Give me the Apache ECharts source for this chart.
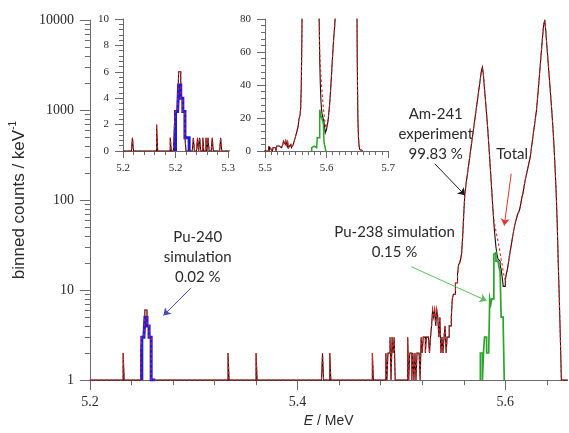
<!DOCTYPE html>
<html>
<head>
<meta charset="utf-8">
<script src="https://cdn.jsdelivr.net/npm/echarts@6/dist/echarts.min.js"></script>
<style>
  html, body { margin: 0; padding: 0; background: #fff; }
  #chart { width: 569px; height: 433px; }
</style>
</head>
<body>
<div id="chart"></div>
<script>
// ---------------- spectrum data (1 keV bins, counts per bin) ----------------
const binMeV = 0.001;
const spectrumStartMeV = 5.200;
const spectrumEndMeV = 5.660;

// Experiment below 5.48 MeV: isolated non-empty bins as [bin start / MeV, counts]
const experimentTailBins = [
  [5.209, 1], [5.232, 2], [5.245, 1], [5.249, 2], [5.250, 3], [5.251, 3], [5.252, 3],
  [5.253, 6], [5.254, 6], [5.255, 4], [5.256, 4], [5.257, 3], [5.258, 3], [5.259, 1],
  [5.267, 1], [5.271, 1], [5.273, 1], [5.276, 1], [5.279, 1], [5.281, 1], [5.285, 1],
  [5.293, 1], [5.333, 2], [5.360, 2], [5.424, 2], [5.431, 2], [5.472, 2]
];

// Experiment from 5.480 MeV upward, consecutive 1 keV bins
const experimentPeakStartMeV = 5.480;
const experimentPeakCounts = [
  0, 0, 0, 0, 0, 2, 1, 2, 2, 3,                 // 5.480
  1, 3, 2, 3, 0, 0, 0, 0, 0, 0,                 // 5.490
  0, 0, 0, 0, 0, 0, 3, 0, 2, 2,                 // 5.500
  1, 2, 0, 2, 1, 2, 2, 2, 0, 3,                 // 5.510
  2, 3, 3, 2, 3, 3, 3, 2, 3, 4,                 // 5.520
  6, 5, 6, 4, 6, 5, 3, 5, 2, 3,                 // 5.530
  2, 3, 4, 2, 3, 3, 4, 4, 5, 8,                 // 5.540
  9, 9, 12, 12, 15, 19, 20, 22, 26, 40,         // 5.550
  70, 115, 144, 176, 213, 260, 316, 384, 467, 568,          // 5.560
  691, 840, 1020, 1240, 1510, 1840, 2240, 2720, 3000, 2400, // 5.570
  1700, 1250, 900, 640, 430, 290, 190, 125, 82, 55,         // 5.580
  40, 30, 25, 22, 21, 19, 17, 14, 11, 11,       // 5.590
  13, 15, 17, 20, 24, 28, 33, 39, 45, 52,       // 5.600
  58, 64, 70, 74, 80, 92, 108, 118, 140, 163,   // 5.610
  185, 208, 235, 266, 301, 366, 447, 545, 664, 809,         // 5.620
  986, 1315, 1820, 2530, 3510, 4870, 6750, 9000, 9900, 7600, // 5.630
  5200, 3700, 2600, 1850, 1300, 900, 600, 380, 220, 120,    // 5.640
  55, 20, 8, 3, 1, 0, 0, 0, 0, 0                // 5.650
];

// Pu-240 simulation
const pu240StartMeV = 5.250;
const pu240Counts = [3, 3, 3, 5, 5, 4, 4, 3, 3, 1, 1, 1, 1];

// Pu-238 simulation
const pu238StartMeV = 5.576;
const pu238Counts = [2, 2, 1, 2, 3, 3, 2, 2, 2, 8, 7, 8, 8, 25, 26, 21, 21, 20, 18, 16, 5, 5, 4];

// Total of the model: follows the experiment except in the valley between the peaks
const totalValleyStartMeV = 5.589;
const totalValleyCounts = [60, 52, 45, 40, 35, 30, 26, 22, 19, 16, 14];

// ---------------- axis ticks ----------------
const mainTickLabelsMeV = [5.2, 5.4, 5.6];
const mainTickMarksMeV = [5.20, 5.24, 5.28, 5.32, 5.36, 5.40, 5.44, 5.48, 5.52, 5.56, 5.60, 5.64];
const countDecades = [1, 10, 100, 1000, 10000];
const insetLowTickLabels = ['5.2', '5.2', '5.3'];
const insetHighTickLabels = ['5.5', '5.6', '5.7'];

// ---------------- annotations (anchored in data coordinates) ----------------
const notes = [
  { text: 'Pu-240\nsimulation\n0.02 %', at: [5.3038, 23.1] },
  { text: 'Pu-238 simulation\n0.15 %', at: [5.4934, 34.1] },
  { text: 'Am-241\nexperiment\n99.83 %', at: [5.5330, 542] },
  { text: 'Total', at: [5.6066, 324] }
];
const arrows = {
  pu240: [[5.2972, 10.5], [5.2708, 5.22]],
  pu238: [[5.5094, 18.2], [5.5821, 7.6]],
  am241: [[5.5321, 253], [5.5613, 113]],
  total: [[5.6057, 196], [5.5990, 52]]
};

// ---------------- helpers ----------------
const nBins = Math.round((spectrumEndMeV - spectrumStartMeV) / binMeV);
const binIndex = e => Math.round((e - spectrumStartMeV) / binMeV);

const experiment = new Array(nBins).fill(0);
experimentTailBins.forEach(([e, c]) => { experiment[binIndex(e)] = c; });
experimentPeakCounts.forEach((c, i) => { experiment[binIndex(experimentPeakStartMeV) + i] = c; });

const total = experiment.slice();
totalValleyCounts.forEach((c, i) => { total[binIndex(totalValleyStartMeV) + i] = c; });

// histogram outline for a step line ('end' = horizontal run first)
function stepPoints(startMeV, counts, floor) {
  const pts = [[startMeV, floor]];
  counts.forEach((c, i) => pts.push([+(startMeV + i * binMeV).toFixed(4), Math.max(c, floor)]));
  const endMeV = +(startMeV + counts.length * binMeV).toFixed(4);
  pts.push([endMeV, Math.max(counts[counts.length - 1], floor)]);
  pts.push([endMeV, floor]);
  return pts;
}

const INK = '#2a2a2a';
const AXIS = '#6a6a6a';
const EXP_COLOR = '#1e0b0b';
const TOTAL_COLOR = '#e3231f';
const PU240_COLOR = '#1a1ae0';
const PU238_COLOR = '#2aa52a';
const SERIF = 'Liberation Serif';
const SANS = 'Liberation Sans';
const NOTE_FONT = 'Lato';

function histLine(name, data, xi, yi, color, width, dashed, z) {
  return {
    name, type: 'line', step: 'end', data,
    xAxisIndex: xi, yAxisIndex: yi,
    showSymbol: false, symbol: 'none', silent: true, animation: false,
    clip: true, z: z,
    lineStyle: { color, width, type: dashed ? [2.5, 2.5] : 'solid', cap: 'butt', join: 'miter' }
  };
}

function arrowLine(pair, color) {
  return {
    silent: true, animation: false,
    symbol: ['none', 'arrow'], symbolSize: 7,
    label: { show: false },
    lineStyle: { color, width: 1, type: 'solid' },
    emphasis: { disabled: true },
    data: [[{ coord: pair[0] }, { coord: pair[1] }]]
  };
}

// minor ticks of the logarithmic count axis (2..9 within each decade)
const logMinorTicks = [];
countDecades.slice(0, -1).forEach(d => { for (let m = 2; m <= 9; m++) logMinorTicks.push(m * d); });

const axisLineStyle = { color: AXIS, width: 1 };
// tick labels in a serif face, set through a rich-text token
function serifLabel(size, margin, text) {
  const style = { fontFamily: SERIF, fontSize: size, color: INK };
  return Object.assign({}, style, {
    margin,
    formatter: (v, i) => '{t|' + text(v, i) + '}',
    rich: { t: style }
  });
}

const chart = echarts.init(document.getElementById('chart'));

const option = {
  backgroundColor: '#ffffff',
  animation: false,
  grid: [
    { left: 80, top: 20, width: 487.6, height: 368 },
    { left: 123, top: 19, width: 105, height: 132 },
    { left: 265, top: 19, width: 123, height: 132 }
  ],
  xAxis: [
    {
      gridIndex: 0, type: 'value', position: 'bottom',
      min: spectrumStartMeV, max: spectrumEndMeV,
      axisLine: { show: true, onZero: false, lineStyle: axisLineStyle },
      axisTick: { show: true, customValues: mainTickMarksMeV, length: 5, lineStyle: axisLineStyle },
      axisLabel: Object.assign(serifLabel(14, 15, v => v.toFixed(1)), { customValues: mainTickLabelsMeV }),
      splitLine: { show: false },
      name: '{i|E}{n| / MeV}', nameLocation: 'middle', nameGap: 32,
      nameTextStyle: { rich: {
        i: { fontFamily: SANS, fontSize: 14, fontStyle: 'italic', color: INK },
        n: { fontFamily: SANS, fontSize: 14, color: INK }
      } }
    },
    {
      gridIndex: 0, type: 'value', position: 'bottom',
      min: spectrumStartMeV, max: spectrumEndMeV,
      axisLine: { show: false },
      axisTick: { show: true, customValues: mainTickLabelsMeV, length: 10, lineStyle: axisLineStyle },
      axisLabel: { show: false },
      splitLine: { show: false }
    },
    {
      gridIndex: 1, type: 'value', min: 5.2, max: 5.3, interval: 0.05,
      axisLine: { show: true, onZero: false, lineStyle: axisLineStyle },
      axisTick: { show: true, length: 7, lineStyle: axisLineStyle },
      minorTick: { show: true, splitNumber: 5, length: 4, lineStyle: axisLineStyle },
      axisLabel: serifLabel(11, 12, (v, i) => insetLowTickLabels[i]),
      splitLine: { show: false }, minorSplitLine: { show: false }
    },
    {
      gridIndex: 2, type: 'value', min: 5.5, max: 5.7, interval: 0.1,
      axisLine: { show: true, onZero: false, lineStyle: axisLineStyle },
      axisTick: { show: true, length: 7, lineStyle: axisLineStyle },
      minorTick: { show: true, splitNumber: 10, length: 4, lineStyle: axisLineStyle },
      axisLabel: serifLabel(11, 12, (v, i) => insetHighTickLabels[i]),
      splitLine: { show: false }, minorSplitLine: { show: false }
    }
  ],
  yAxis: [
    {
      gridIndex: 0, type: 'log', logBase: 10, min: 1, max: 10000,
      axisLine: { show: true, onZero: false, lineStyle: axisLineStyle },
      axisTick: { show: true, length: 10, lineStyle: axisLineStyle },
      axisLabel: serifLabel(14, 16, v => String(Math.round(v))),
      splitLine: { show: false },
      name: '{n|binned counts / keV}{s|-1}', nameLocation: 'middle', nameGap: 51, nameRotate: 90,
      nameTextStyle: { rich: {
        n: { fontFamily: SANS, fontSize: 17, color: INK, lineHeight: 20, verticalAlign: 'bottom' },
        s: { fontFamily: SANS, fontSize: 10, color: INK, lineHeight: 20, verticalAlign: 'top' }
      } }
    },
    {
      gridIndex: 1, type: 'value', min: 0, max: 10, interval: 2,
      axisLine: { show: true, onZero: false, lineStyle: axisLineStyle },
      axisTick: { show: true, length: 8, lineStyle: axisLineStyle },
      minorTick: { show: true, splitNumber: 5, length: 4, lineStyle: axisLineStyle },
      axisLabel: serifLabel(11, 14, v => String(v)),
      splitLine: { show: false }, minorSplitLine: { show: false }
    },
    {
      gridIndex: 2, type: 'value', min: 0, max: 80, interval: 20,
      axisLine: { show: true, onZero: false, lineStyle: axisLineStyle },
      axisTick: { show: true, length: 8, lineStyle: axisLineStyle },
      minorTick: { show: true, splitNumber: 5, length: 4, lineStyle: axisLineStyle },
      axisLabel: serifLabel(11, 14, v => String(v)),
      splitLine: { show: false }, minorSplitLine: { show: false }
    }
  ],
  series: []
};

// main spectrum (log scale, empty bins sit on the 1-count baseline)
const expMain = histLine('Experiment', stepPoints(spectrumStartMeV, experiment, 1), 0, 0, EXP_COLOR, 1.1, false, 2);
expMain.markLine = arrowLine(arrows.am241, '#1a1a1a');
// text notes, centred on their anchor points
expMain.markPoint = {
  silent: true, animation: false,
  symbol: 'circle', symbolSize: 1,
  itemStyle: { color: 'rgba(0,0,0,0)' },
  label: {
    show: true, position: 'inside', formatter: '{b}',
    fontFamily: NOTE_FONT, fontSize: 15, lineHeight: 20, color: INK, align: 'center', verticalAlign: 'middle'
  },
  emphasis: { disabled: true },
  data: notes.map(n => ({ name: n.text, coord: n.at }))
};
const pu238Main = histLine('Pu-238 simulation', stepPoints(pu238StartMeV, pu238Counts, 1), 0, 0, PU238_COLOR, 1.7, false, 3);
pu238Main.markLine = arrowLine(arrows.pu238, '#5cbf5c');
const pu240Main = histLine('Pu-240 simulation', stepPoints(pu240StartMeV, pu240Counts, 1), 0, 0, PU240_COLOR, 3, false, 4);
pu240Main.markLine = arrowLine(arrows.pu240, '#4747b8');
const totalMain = histLine('Total', stepPoints(spectrumStartMeV, total, 1), 0, 0, TOTAL_COLOR, 1.1, true, 5);
totalMain.markLine = arrowLine(arrows.total, '#e8312c');

option.series.push(expMain, pu238Main, pu240Main, totalMain);

// log-axis minor ticks, placed through the axis scale
option.series.push({
  type: 'custom', xAxisIndex: 0, yAxisIndex: 0, clip: false, silent: true, animation: false, z: 10,
  data: logMinorTicks.map(v => [spectrumStartMeV, v]),
  renderItem: (params, api) => {
    const p = api.coord([api.value(0), api.value(1)]);
    const y = Math.round(p[1]) + 0.5;
    return { type: 'line', shape: { x1: p[0] - 5, y1: y, x2: p[0], y2: y },
             style: { stroke: AXIS, lineWidth: 1 } };
  }
});

// inset: Pu-240 region, linear counts
option.series.push(
  histLine('Experiment', stepPoints(spectrumStartMeV, experiment, 0), 2, 1, EXP_COLOR, 1.1, false, 2),
  histLine('Pu-240 simulation', stepPoints(pu240StartMeV, pu240Counts, 0), 2, 1, PU240_COLOR, 3, false, 4),
  histLine('Total', stepPoints(spectrumStartMeV, total, 0), 2, 1, TOTAL_COLOR, 1.1, true, 5)
);
// inset: valley between the Am-241 lines, linear counts
option.series.push(
  histLine('Experiment', stepPoints(spectrumStartMeV, experiment, 0), 3, 2, EXP_COLOR, 1.1, false, 2),
  histLine('Pu-238 simulation', stepPoints(pu238StartMeV, pu238Counts, 0), 3, 2, PU238_COLOR, 1.5, false, 3),
  histLine('Total', stepPoints(spectrumStartMeV, total, 0), 3, 2, TOTAL_COLOR, 1.1, true, 5)
);

chart.setOption(option);
</script>
</body>
</html>
